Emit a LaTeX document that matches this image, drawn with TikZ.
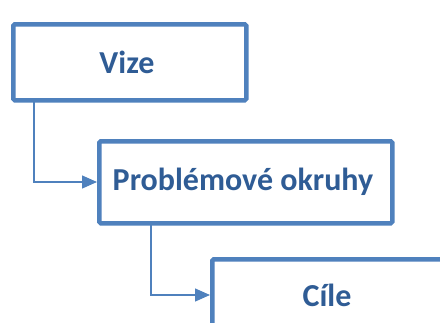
\documentclass[tikz,border=0pt]{standalone}
\usepackage{fontspec}
\setmainfont{Carlito}
\usetikzlibrary{arrows.meta}
\definecolor{boxblue}{HTML}{4F81BD}
\definecolor{txtblue}{HTML}{2F5C95}
\tikzset{
  box/.style={draw=boxblue, line width=4.5pt, fill=white, rounded corners=1.5pt, inner sep=0pt, anchor=north west},
  lbl/.style={text=txtblue, font=\fontsize{32}{36}\selectfont\bfseries},
  conn/.style={draw=boxblue, line width=1.3pt, -{Triangle[length=15pt,width=13pt]}}
}
\begin{document}
\begin{tikzpicture}[x=1pt,y=-1pt]
\useasboundingbox (0,0) rectangle (440,322);
\node[box, minimum width=233pt, minimum height=76pt] (vize) at (11,22) {};
\node[lbl] (vizet) at (127,62) {Vize};
\node[box, minimum width=293pt, minimum height=82pt] (prob) at (97,139) {};
\node[lbl] (probt) at (243,182) {Problémové okruhy};
\node[box, minimum width=260pt, minimum height=100pt] (cile) at (210,257) {};
\node[lbl] (cilet) at (327,295) {Cíle};
\coordinate (c1) at (34,98);
\coordinate (c2) at (151,221);
\draw[conn] (c1) |- (prob.west |- probt);
\draw[conn] (c2) |- (cile.west |- cilet);
\end{tikzpicture}
\end{document}
